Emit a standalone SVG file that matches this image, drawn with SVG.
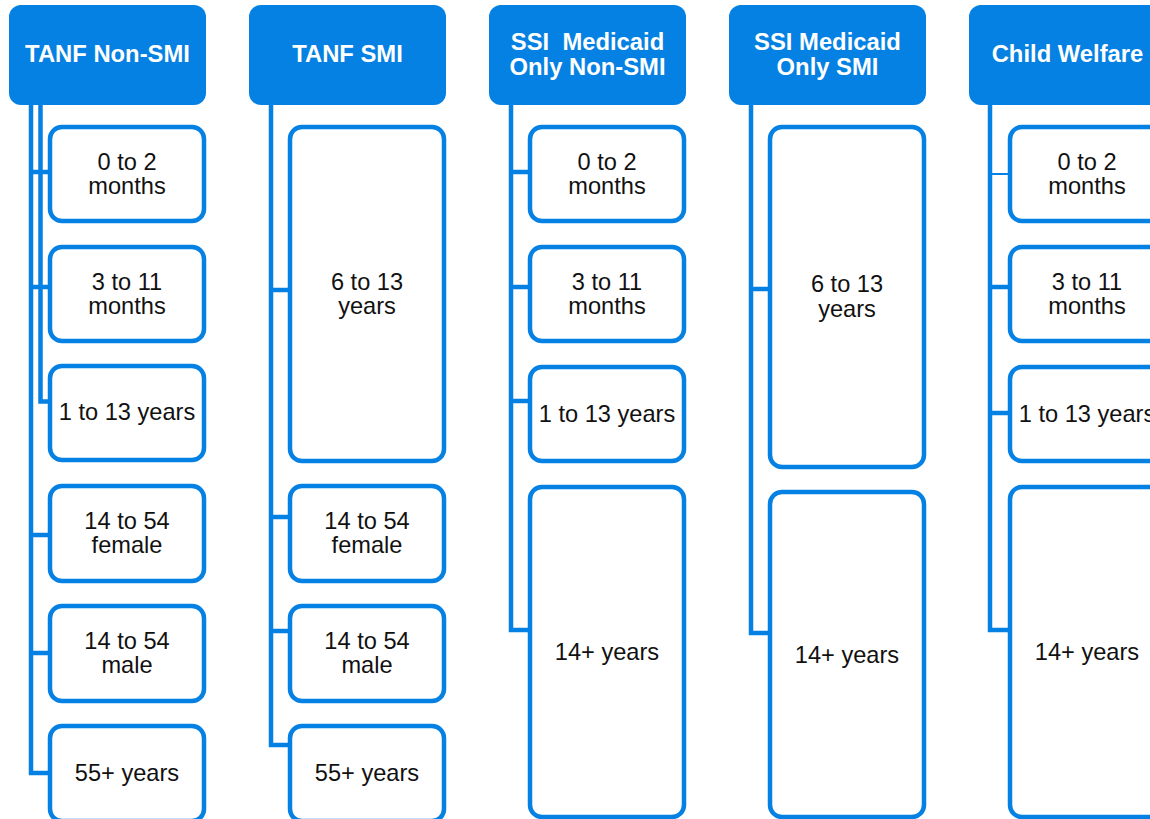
<svg xmlns="http://www.w3.org/2000/svg" width="1150" height="819" viewBox="0 0 1150 819">
<style>
.hdr{fill:#0581E3;stroke:none}
.box{fill:#fff;stroke:#0581E3;stroke-width:4.5}
.ht{font-family:"Liberation Sans",Arial,sans-serif;font-weight:bold;font-size:23.8px;fill:#fff;text-anchor:middle}
.bt{font-family:"Liberation Sans",Arial,sans-serif;font-size:23.6px;fill:#111;text-anchor:middle}
.ln{fill:none;stroke:#0581E3;stroke-width:4.5}
</style>
<rect width="1150" height="819" fill="#fff"/>
<g id="connectors">
<path class="ln" d="M31,105 V773 H48 M31,172 H48 M31,287 H48 M31,535 H48 M31,653 H48"/>
<path class="ln" d="M40.5,105 V401.5 H48"/>
<path class="ln" d="M271,105 V745 H288 M271,290 H288 M271,517 H288 M271,631 H288"/>
<path class="ln" d="M511,105 V630 H528 M511,172 H528 M511,287 H528 M511,401 H528"/>
<path class="ln" d="M751,105 V633 H768 M751,289 H768"/>
<path class="ln" d="M990,105 V630 H1008 M990,287 H1008 M990,413 H1008"/>
<path class="ln" style="stroke-width:2" d="M990,174 H1008"/>
</g>
<g id="col1">
<g id="h1"><rect class="hdr" x="9" y="5" width="197" height="100" rx="12"/><text class="ht" x="107.5" y="62">TANF Non-SMI</text></g>
<g id="c1a"><rect class="box" x="50" y="127" width="154" height="94" rx="12"/><text class="bt" x="127" y="170">0 to 2</text><text class="bt" x="127" y="194">months</text></g>
<g id="c1b"><rect class="box" x="50" y="247" width="154" height="94" rx="12"/><text class="bt" x="127" y="290">3 to 11</text><text class="bt" x="127" y="314">months</text></g>
<g id="c1c"><rect class="box" x="50" y="366" width="154" height="94" rx="12"/><text class="bt" x="127" y="420">1 to 13 years</text></g>
<g id="c1d"><rect class="box" x="50" y="486" width="154" height="95" rx="12"/><text class="bt" x="127" y="529">14 to 54</text><text class="bt" x="127" y="553">female</text></g>
<g id="c1e"><rect class="box" x="50" y="606" width="154" height="95" rx="12"/><text class="bt" x="127" y="649">14 to 54</text><text class="bt" x="127" y="673">male</text></g>
<g id="c1f"><rect class="box" x="50" y="726" width="154" height="95" rx="12"/><text class="bt" x="127" y="781">55+ years</text></g>
</g>
<g id="col2">
<g id="h2"><rect class="hdr" x="249" y="5" width="197" height="100" rx="12"/><text class="ht" x="347.5" y="62">TANF SMI</text></g>
<g id="c2a"><rect class="box" x="290" y="127" width="154" height="334" rx="12"/><text class="bt" x="367" y="290">6 to 13</text><text class="bt" x="367" y="314">years</text></g>
<g id="c2b"><rect class="box" x="290" y="486" width="154" height="95" rx="12"/><text class="bt" x="367" y="529">14 to 54</text><text class="bt" x="367" y="553">female</text></g>
<g id="c2c"><rect class="box" x="290" y="606" width="154" height="95" rx="12"/><text class="bt" x="367" y="649">14 to 54</text><text class="bt" x="367" y="673">male</text></g>
<g id="c2d"><rect class="box" x="290" y="726" width="154" height="95" rx="12"/><text class="bt" x="367" y="781">55+ years</text></g>
</g>
<g id="col3">
<g id="h3"><rect class="hdr" x="489" y="5" width="197" height="100" rx="12"/><text class="ht" x="587.5" y="50" xml:space="preserve">SSI  Medicaid</text><text class="ht" x="587.5" y="75">Only Non-SMI</text></g>
<g id="c3a"><rect class="box" x="530" y="127" width="154" height="94" rx="12"/><text class="bt" x="607" y="170">0 to 2</text><text class="bt" x="607" y="194">months</text></g>
<g id="c3b"><rect class="box" x="530" y="247" width="154" height="94" rx="12"/><text class="bt" x="607" y="290">3 to 11</text><text class="bt" x="607" y="314">months</text></g>
<g id="c3c"><rect class="box" x="530" y="367" width="154" height="94" rx="12"/><text class="bt" x="607" y="422">1 to 13 years</text></g>
<g id="c3d"><rect class="box" x="530" y="487" width="154" height="330" rx="12"/><text class="bt" x="607" y="660">14+ years</text></g>
</g>
<g id="col4">
<g id="h4"><rect class="hdr" x="729" y="5" width="197" height="100" rx="12"/><text class="ht" x="827.5" y="50">SSI Medicaid</text><text class="ht" x="827.5" y="75">Only SMI</text></g>
<g id="c4a"><rect class="box" x="770" y="127" width="154" height="340" rx="12"/><text class="bt" x="847" y="292">6 to 13</text><text class="bt" x="847" y="317">years</text></g>
<g id="c4b"><rect class="box" x="770" y="492" width="154" height="325" rx="12"/><text class="bt" x="847" y="663">14+ years</text></g>
</g>
<g id="col5">
<g id="h5"><rect class="hdr" x="969" y="5" width="197" height="100" rx="12"/><text class="ht" x="1067.5" y="62">Child Welfare</text></g>
<g id="c5a"><rect class="box" x="1010" y="127" width="154" height="94" rx="12"/><text class="bt" x="1087" y="170">0 to 2</text><text class="bt" x="1087" y="194">months</text></g>
<g id="c5b"><rect class="box" x="1010" y="247" width="154" height="94" rx="12"/><text class="bt" x="1087" y="290">3 to 11</text><text class="bt" x="1087" y="314">months</text></g>
<g id="c5c"><rect class="box" x="1010" y="367" width="154" height="94" rx="12"/><text class="bt" x="1087" y="422">1 to 13 years</text></g>
<g id="c5d"><rect class="box" x="1010" y="487" width="154" height="330" rx="12"/><text class="bt" x="1087" y="660">14+ years</text></g>
</g>
</svg>
